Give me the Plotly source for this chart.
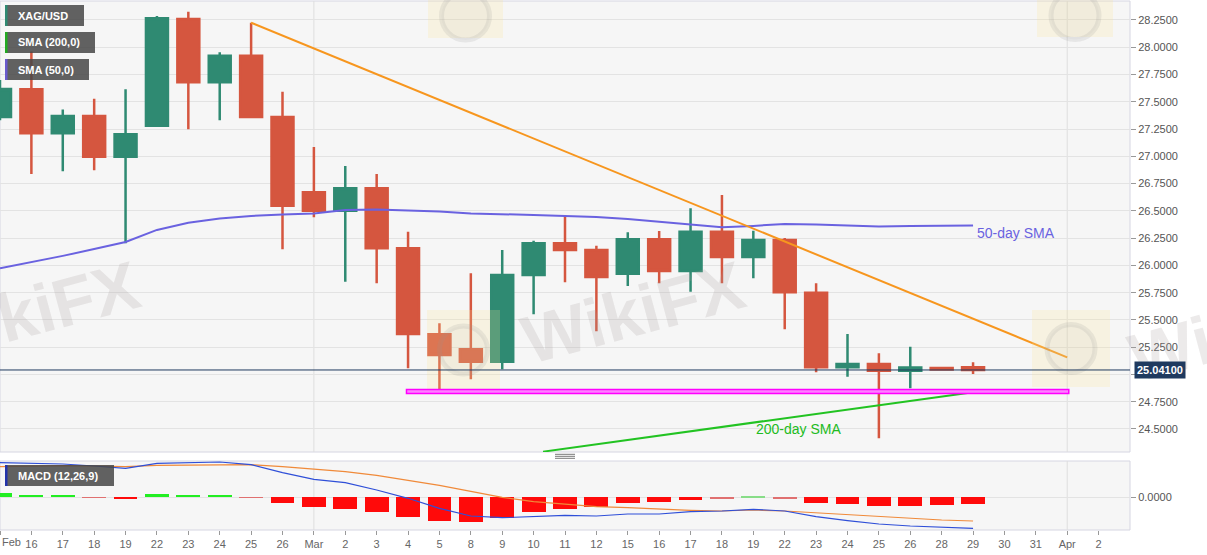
import plotly.graph_objects as go

# ---------------- data ----------------
labels = ["Feb", "16", "17", "18", "19", "22", "23", "24", "25", "26", "Mar", "2", "3", "4", "5", "8",
          "9", "10", "11", "12", "15", "16", "17", "18", "19", "22", "23", "24", "25", "26", "28", "29",
          "30", "31", "Apr", "2"]

opens = [27.361, 27.615, 27.211, 27.370, 26.997, 27.281, 28.259, 27.679, 27.923, 27.361, 26.670, 26.502,
         26.707, 26.157, 25.368, 25.231, 25.117, 25.912, 26.203, 26.141, 25.924, 26.239, 25.949, 26.309,
         26.077, 26.233, 25.750, 25.066, 25.096, 25.035, 25.060, 25.066]
highs = [27.700, 27.960, 27.430, 27.528, 27.615, 28.287, 28.326, 27.954, 28.225, 27.593, 27.086, 26.911,
         26.838, 26.309, 25.469, 25.928, 26.141, 26.226, 26.453, 26.180, 26.304, 26.315, 26.524, 26.646,
         26.318, 26.250, 25.836, 25.371, 25.194, 25.255, 25.065, 25.112]
lows = [27.330, 26.838, 26.863, 26.872, 26.203, 27.272, 27.248, 27.330, 27.361, 26.148, 26.441, 25.851,
        25.836, 25.057, 24.851, 24.957, 25.048, 25.552, 25.845, 25.396, 25.811, 25.836, 25.759, 25.836,
        25.882, 25.414, 25.020, 24.980, 24.415, 24.873, 25.040, 25.005]
closes = [27.617, 27.211, 27.370, 26.997, 27.202, 28.266, 27.679, 27.923, 27.361, 26.547, 26.502, 26.707,
          26.157, 25.371, 25.179, 25.117, 25.912, 26.203, 26.141, 25.894, 26.239, 25.949, 26.309, 26.077,
          26.233, 25.753, 25.066, 25.096, 25.035, 25.063, 25.045, 25.041]

sma50 = [25.974, 26.030, 26.087, 26.150, 26.215, 26.325, 26.390, 26.430, 26.453, 26.466, 26.476, 26.508,
         26.512, 26.503, 26.494, 26.476, 26.466, 26.462, 26.453, 26.444, 26.425, 26.402, 26.375, 26.350,
         26.362, 26.380, 26.375, 26.366, 26.357, 26.362, 26.364, 26.366]

trend_x = [8, 34]
trend_y = [28.225, 25.157]

sma200_x = [17.3, 31]
sma200_y = [24.292, 24.837]

support_x = [12.95, 34.05]
support_y = [24.825, 24.862]

price_ticks = [24.5, 24.75, 25.0, 25.25, 25.5, 25.75, 26.0, 26.25, 26.5, 26.75, 27.0, 27.25, 27.5, 27.75,
               28.0, 28.25]

macd = [0.346, 0.340, 0.333, 0.313, 0.290, 0.340, 0.348, 0.353, 0.326, 0.246, 0.180, 0.146, 0.073, -0.010,
        -0.110, -0.187, -0.204, -0.194, -0.180, -0.187, -0.167, -0.167, -0.144, -0.137, -0.120, -0.137,
        -0.194, -0.234, -0.267, -0.287, -0.300, -0.310]
signal = [0.306, 0.313, 0.316, 0.313, 0.306, 0.320, 0.323, 0.326, 0.326, 0.306, 0.283, 0.256, 0.220, 0.173,
          0.120, 0.060, 0.000, -0.044, -0.070, -0.094, -0.104, -0.120, -0.130, -0.137, -0.127, -0.137,
          -0.154, -0.174, -0.194, -0.210, -0.227, -0.237]
hist = [0.040, 0.027, 0.020, -0.007, -0.017, 0.030, 0.027, 0.027, -0.002, -0.060, -0.100, -0.113, -0.147,
        -0.200, -0.233, -0.247, -0.207, -0.150, -0.113, -0.093, -0.060, -0.050, -0.023, -0.013, 0.010,
        -0.013, -0.053, -0.070, -0.083, -0.083, -0.077, -0.063]

# ---------------- styling ----------------
W, H = 1207, 555
ML, MR, MT, MB = 0, 77, 1, 25
PW = W - ML - MR
PH = H - MT - MB
PLOT_BOTTOM = MT + PH


def px(x):
    return (x - ML) / PW


def py(y):
    return (PLOT_BOTTOM - y) / PH


MAIN_DOM = [py(452), 1.0]
MACD_DOM = [0.0, py(461)]

UP = "#2f8a72"
DOWN = "#d5563f"
FONT = "Liberation Sans, Arial, sans-serif"

n = len(opens)
xs = list(range(n))

fig = go.Figure()

fig.add_trace(go.Candlestick(
    x=xs, open=opens, high=highs, low=lows, close=closes,
    increasing=dict(line=dict(color=UP, width=2.5), fillcolor=UP),
    decreasing=dict(line=dict(color=DOWN, width=2.5), fillcolor=DOWN),
    whiskerwidth=0, showlegend=False, hoverinfo="skip", xaxis="x", yaxis="y"))

fig.add_trace(go.Scatter(x=xs, y=sma50, mode="lines", line=dict(color="#6a62e0", width=2),
                         showlegend=False, hoverinfo="skip", xaxis="x", yaxis="y"))
fig.add_trace(go.Scatter(x=trend_x, y=trend_y, mode="lines", line=dict(color="#f7961e", width=2),
                         showlegend=False, hoverinfo="skip", xaxis="x", yaxis="y"))
fig.add_trace(go.Scatter(x=sma200_x, y=sma200_y, mode="lines", line=dict(color="#22c322", width=2),
                         showlegend=False, hoverinfo="skip", xaxis="x", yaxis="y"))

bar_colors = []
for v in hist:
    if v >= 0:
        bar_colors.append("#22ee22" if abs(v) > 0.015 else "#88dd88")
    else:
        bar_colors.append("#ff0a0a" if abs(v) > 0.015 else "#e07070")
fig.add_trace(go.Bar(x=xs, y=hist, width=0.76, marker=dict(color=bar_colors, line=dict(width=0)),
                     showlegend=False, hoverinfo="skip", xaxis="x", yaxis="y2"))
fig.add_trace(go.Scatter(x=xs, y=signal, mode="lines", line=dict(color="#f08a3a", width=1.2),
                         showlegend=False, hoverinfo="skip", xaxis="x", yaxis="y2"))
fig.add_trace(go.Scatter(x=xs, y=macd, mode="lines", line=dict(color="#2f4fd8", width=1.2),
                         showlegend=False, hoverinfo="skip", xaxis="x", yaxis="y2"))

shapes = []
# panel backgrounds
for dom in (MAIN_DOM, MACD_DOM):
    shapes.append(dict(type="rect", xref="paper", yref="paper", x0=0, x1=1, y0=dom[0], y1=dom[1],
                       fillcolor="#f6f6f6", line=dict(color="#d6d6e2", width=1), layer="below"))
# vertical month lines
for xv in (10, 34):
    for dom in (MAIN_DOM, MACD_DOM):
        shapes.append(dict(type="line", xref="x", yref="paper", x0=xv, x1=xv, y0=dom[0], y1=dom[1],
                           line=dict(color="#dedede", width=1), layer="below"))

# watermark logos (faint)
for (x0, y0, x1, y1) in [(428, -6, 503, 38), (427, 310, 500, 390), (1032, 310, 1110, 387),
                         (1037, -6, 1113, 37)]:
    shapes.append(dict(type="rect", xref="paper", yref="paper", x0=px(x0), x1=px(x1), y0=py(y1),
                       y1=py(y0), fillcolor="rgba(252,228,150,0.22)", line=dict(width=0), layer="above"))
    cx, cy = (x0 + x1) / 2, (y0 + y1) / 2
    shapes.append(dict(type="circle", xref="paper", yref="paper", x0=px(cx - 24), x1=px(cx + 24),
                       y0=py(cy + 24), y1=py(cy - 24), fillcolor="rgba(150,150,150,0.06)",
                       line=dict(color="rgba(150,150,150,0.16)", width=5), layer="above"))

# support band
shapes.append(dict(type="rect", xref="x", yref="y", x0=support_x[0], x1=support_x[1],
                   y0=support_y[0], y1=support_y[1], fillcolor="#ff80ff",
                   line=dict(color="#ff00ff", width=1.5), layer="above"))
# last price line
shapes.append(dict(type="line", xref="paper", yref="y", x0=0, x1=1, y0=closes[-1], y1=closes[-1],
                   line=dict(color="#1f3a5f", width=1), layer="above"))
# splitter
for yy in (454.3, 456.3, 458.3):
    shapes.append(dict(type="line", xref="paper", yref="paper", x0=px(555), x1=px(575), y0=py(yy),
                       y1=py(yy), line=dict(color="#777777", width=1)))

# legend boxes
boxes = [(5, 84, 5, 26, "#2f8a72", "XAG/USD"),
         (5, 95, 32, 53, "#22aa22", "SMA (200,0)"),
         (5, 89, 59, 80, "#6a5acd", "SMA (50,0)"),
         (5, 114, 465, 486, "#2233aa", "MACD (12,26,9)")]
annotations = []
for (x0, x1, y0, y1, col, txt) in boxes:
    shapes.append(dict(type="rect", xref="paper", yref="paper", x0=px(x0), x1=px(x1), y0=py(y1), y1=py(y0),
                       fillcolor="rgba(70,70,70,0.85)", line=dict(width=0), layer="above"))
    shapes.append(dict(type="rect", xref="paper", yref="paper", x0=px(x0), x1=px(x0 + 2.5), y0=py(y1),
                       y1=py(y0), fillcolor=col, line=dict(width=0), layer="above"))
    annotations.append(dict(text="<b>" + txt + "</b>", xref="paper", yref="paper", x=px(16),
                            y=py((y0 + y1) / 2), xanchor="left", yanchor="middle", showarrow=False,
                            font=dict(family=FONT, size=11, color="white")))

# watermark texts (partly outside the page, as in the reference)
for (cx, cy) in [(28, 312), (633, 312), (1240, 330)]:
    annotations.append(dict(text="<b>WikiFX</b>", xref="paper", yref="paper", x=px(cx), y=py(cy),
                            xanchor="center", yanchor="middle", showarrow=False, textangle=-15,
                            font=dict(family=FONT, size=68, color="rgba(170,160,160,0.22)")))

annotations.append(dict(text="50-day SMA", xref="x", yref="y", x=31.05, y=26.297, xanchor="left",
                        yanchor="middle", showarrow=False, font=dict(family=FONT, size=14, color="#6a62e0")))
annotations.append(dict(text="200-day SMA", xref="x", yref="y", x=24.02, y=24.497, xanchor="left",
                        yanchor="middle", showarrow=False, font=dict(family=FONT, size=14, color="#22bb22")))
annotations.append(dict(text="<b>%.5f</b>" % closes[-1], xref="paper", yref="y", x=1, xshift=4,
                        y=closes[-1], xanchor="left", yanchor="middle", showarrow=False,
                        bgcolor="#1f3a5f", borderpad=2, font=dict(family=FONT, size=11, color="white")))
annotations.append(dict(text=labels[0], xref="x", yref="paper", x=0, y=py(542), xanchor="left",
                        yanchor="middle", showarrow=False, font=dict(family=FONT, size=11, color="#666666")))

# hide the tick label that sits under the last-price tag (gridline kept)
price_ticktext = ["" if abs(t - 25.0) < 1e-9 else "%.4f" % t for t in price_ticks]

fig.update_layout(
    width=W, height=H,
    margin=dict(l=ML, r=MR, t=MT, b=MB),
    paper_bgcolor="white", plot_bgcolor="white",
    boxgap=0.3, boxgroupgap=0,
    bargap=0,
    showlegend=False,
    shapes=shapes,
    annotations=annotations,
    xaxis=dict(range=[0, 36], anchor="y2", tickmode="array", tickvals=list(range(len(labels))),
               ticktext=[""] + labels[1:], ticks="outside", ticklen=4, tickcolor="#999999",
               showgrid=False, zeroline=False, showline=False, rangeslider=dict(visible=False),
               tickfont=dict(family=FONT, size=11, color="#666666")),
    yaxis=dict(domain=MAIN_DOM, range=[24.289, 28.424], side="right", tickmode="array",
               tickvals=price_ticks, ticktext=price_ticktext, ticks="outside", ticklen=5,
               tickcolor="#999999", showgrid=True, gridcolor="#e3e3e3", zeroline=False, showline=False,
               tickfont=dict(family=FONT, size=11, color="#555555")),
    yaxis2=dict(domain=MACD_DOM, range=[-0.327, 0.363], side="right", tickmode="array", tickvals=[0],
                ticktext=["0.0000"], ticks="outside", ticklen=5, tickcolor="#999999", showgrid=True,
                gridcolor="#e3e3e3", zeroline=False, showline=False,
                tickfont=dict(family=FONT, size=11, color="#555555")),
)

fig.write_html("out.html", config={"displayModeBar": False},
               post_script="document.body.style.margin='0';document.body.style.overflow='hidden';")
